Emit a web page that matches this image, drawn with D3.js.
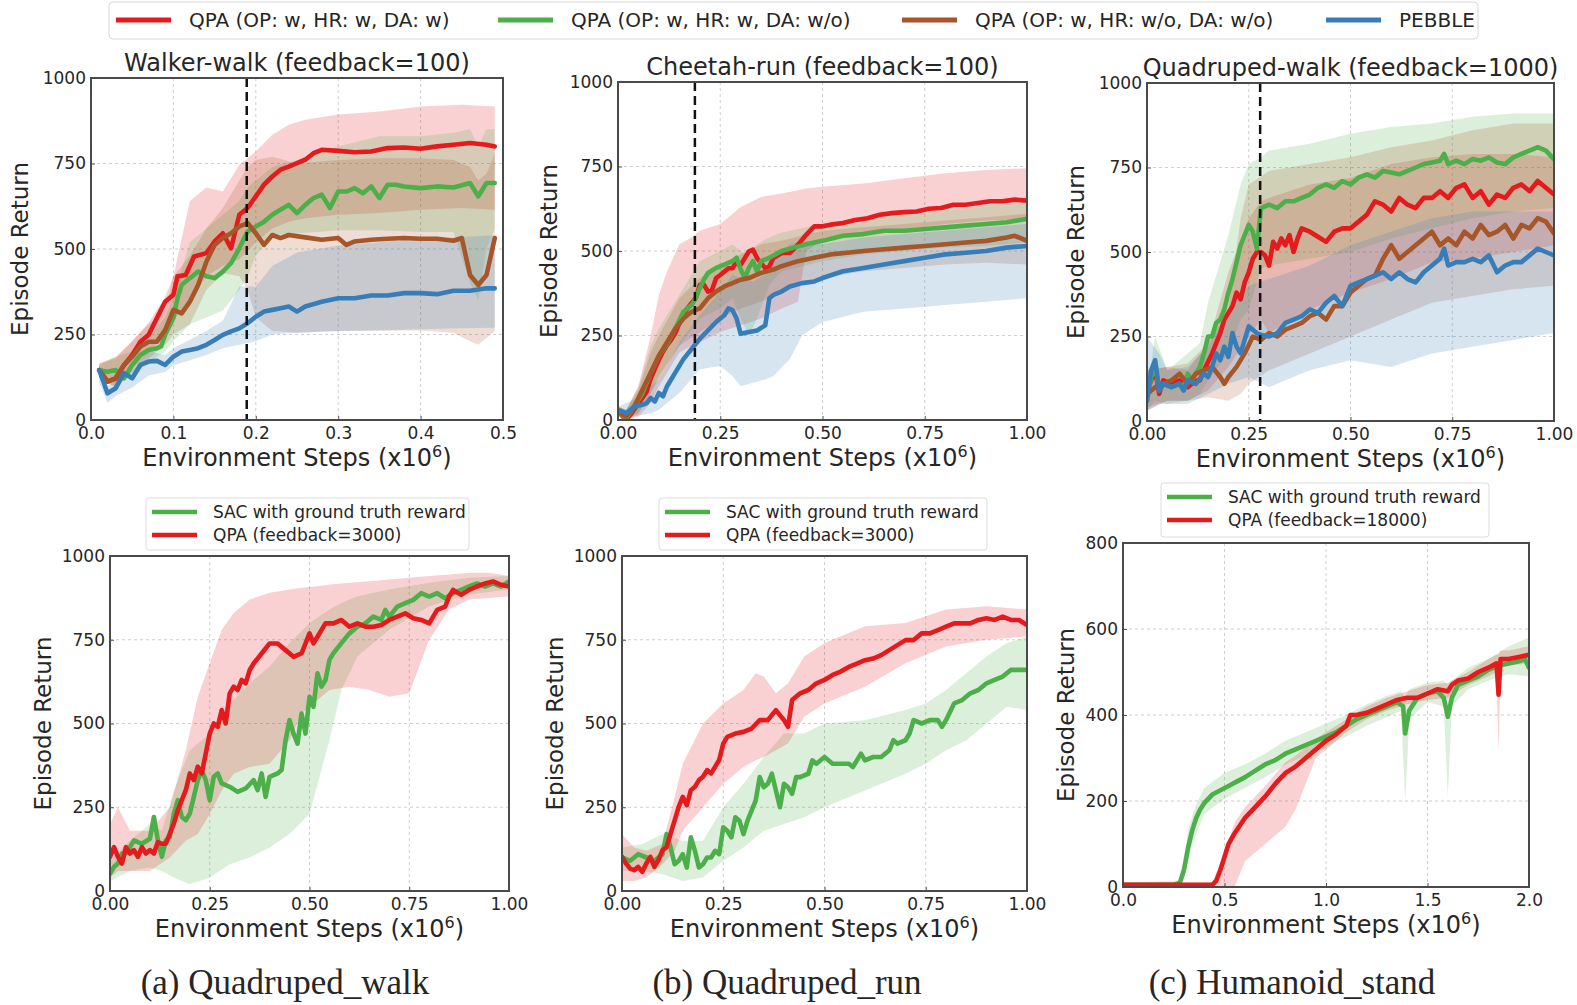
<!DOCTYPE html>
<html>
<head>
<meta charset="utf-8">
<title>QPA learning curves</title>
<script src="https://cdn.jsdelivr.net/npm/d3@7"></script>
<style>
  body { margin: 0; background: #fff; }
  text { font-family: "DejaVu Sans", sans-serif; fill: #262626; }
  .caption { font-family: "Liberation Serif", "Times New Roman", serif; }
</style>
</head>
<body>
<svg id="chart" width="1577" height="1005"></svg>
<script>
// ---- tick values ----
const walkerXTicks = [0, 0.1, 0.2, 0.3, 0.4, 0.5];
const unitXTicks = [0, 0.25, 0.5, 0.75, 1.0];
const humXTicks = [0, 0.5, 1.0, 1.5, 2.0];
const returnYTicks = [0, 250, 500, 750, 1000];
const humYTicks = [0, 200, 400, 600, 800];

// ---- legend labels ----
const topLegend = ["QPA (OP: w, HR: w, DA: w)", "QPA (OP: w, HR: w, DA: w/o)", "QPA (OP: w, HR: w/o, DA: w/o)", "PEBBLE"];
const sacLabel = "SAC with ground truth reward";

// ---- Walker-walk (feedback=100): [step, mean] and [step, low, high] ----
const walkerRed = [[0.01,146],[0.02,112],[0.03,122],[0.04,160],[0.05,190],[0.06,229],[0.07,249],[0.08,298],[0.09,346],[0.1,366],[0.105,420],[0.115,424],[0.125,478],[0.14,488],[0.15,522],[0.16,546],[0.17,502],[0.18,600],[0.19,620],[0.2,654],[0.21,688],[0.22,712],[0.23,732],[0.24,741],[0.25,751],[0.26,761],[0.27,780],[0.28,790],[0.3,787],[0.32,783],[0.34,785],[0.36,795],[0.38,797],[0.4,793],[0.42,800],[0.44,805],[0.46,810],[0.48,805],[0.49,800]];
const walkerGreen = [[0.01,146],[0.02,141],[0.03,146],[0.04,122],[0.05,161],[0.06,190],[0.07,205],[0.08,210],[0.085,215],[0.09,249],[0.1,298],[0.105,356],[0.11,395],[0.12,415],[0.13,434],[0.14,420],[0.15,415],[0.16,434],[0.17,459],[0.18,502],[0.19,551],[0.2,566],[0.21,580],[0.22,600],[0.23,615],[0.24,629],[0.25,605],[0.26,629],[0.27,649],[0.28,659],[0.29,620],[0.3,668],[0.31,668],[0.32,678],[0.33,663],[0.34,683],[0.35,649],[0.36,688],[0.37,688],[0.38,683],[0.4,678],[0.42,683],[0.44,680],[0.46,693],[0.47,654],[0.48,693],[0.49,693]];
const walkerBrown = [[0.01,146],[0.02,112],[0.03,122],[0.04,161],[0.05,185],[0.06,215],[0.07,229],[0.08,229],[0.09,263],[0.1,322],[0.11,312],[0.12,346],[0.13,395],[0.14,463],[0.15,512],[0.16,532],[0.17,546],[0.18,566],[0.19,576],[0.2,546],[0.21,512],[0.22,541],[0.23,532],[0.24,541],[0.26,534],[0.28,527],[0.3,532],[0.31,512],[0.32,522],[0.34,527],[0.36,530],[0.38,532],[0.4,530],[0.42,530],[0.44,524],[0.45,532],[0.46,424],[0.47,395],[0.48,424],[0.49,532]];
const walkerBlue = [[0.01,146],[0.02,78],[0.03,93],[0.04,137],[0.05,122],[0.06,161],[0.07,171],[0.08,173],[0.09,161],[0.1,185],[0.11,200],[0.12,205],[0.13,210],[0.14,220],[0.15,234],[0.16,249],[0.17,259],[0.18,268],[0.19,283],[0.2,302],[0.21,317],[0.22,322],[0.23,327],[0.24,332],[0.25,317],[0.26,332],[0.28,346],[0.3,356],[0.32,356],[0.34,364],[0.36,364],[0.38,371],[0.4,371],[0.42,368],[0.44,378],[0.46,378],[0.48,385],[0.49,385]];
const walkerRedBand = [[0.01,125,165],[0.03,95,185],[0.05,150,230],[0.07,195,285],[0.09,255,360],[0.1,290,420],[0.12,350,640],[0.14,420,680],[0.16,450,668],[0.18,470,746],[0.2,520,785],[0.22,560,834],[0.24,580,863],[0.26,590,878],[0.3,600,893],[0.35,605,902],[0.4,615,917],[0.45,620,922],[0.49,615,917]];
const walkerGreenBand = [[0.01,130,160],[0.03,110,185],[0.05,130,200],[0.07,170,240],[0.09,200,300],[0.1,230,360],[0.12,280,520],[0.14,300,560],[0.16,320,600],[0.18,380,640],[0.19,420,680],[0.2,480,700],[0.22,540,740],[0.25,545,760],[0.3,555,800],[0.35,555,830],[0.4,550,830],[0.44,550,840],[0.46,400,850],[0.47,350,800],[0.48,500,850],[0.49,560,850]];
const walkerBrownBand = [[0.01,125,165],[0.03,95,180],[0.05,140,230],[0.07,180,280],[0.09,220,320],[0.1,250,420],[0.12,280,480],[0.14,380,560],[0.16,430,620],[0.18,420,700],[0.19,380,740],[0.2,300,760],[0.22,260,770],[0.25,255,750],[0.3,260,760],[0.35,262,765],[0.4,262,765],[0.44,255,760],[0.46,230,740],[0.47,220,700],[0.48,240,720],[0.49,260,780]];
const walkerBlueBand = [[0.01,110,160],[0.02,50,100],[0.03,70,115],[0.05,95,145],[0.07,130,200],[0.09,140,190],[0.1,160,210],[0.12,175,235],[0.14,190,260],[0.16,210,290],[0.18,220,390],[0.2,230,390],[0.22,250,450],[0.25,255,490],[0.3,260,510],[0.35,262,520],[0.4,265,530],[0.45,268,535],[0.49,270,540]];

// ---- Cheetah-run (feedback=100) ----
const cheetahRed = [[0,25],[0.02,0],[0.03,15],[0.05,49],[0.07,84],[0.08,123],[0.1,178],[0.11,202],[0.12,222],[0.13,237],[0.14,257],[0.15,286],[0.16,311],[0.17,331],[0.18,346],[0.19,360],[0.2,400],[0.21,400],[0.22,380],[0.23,385],[0.24,420],[0.25,429],[0.26,439],[0.27,449],[0.28,449],[0.29,469],[0.3,459],[0.31,479],[0.32,499],[0.33,504],[0.34,479],[0.35,464],[0.36,449],[0.37,454],[0.38,479],[0.4,494],[0.42,494],[0.44,518],[0.46,548],[0.48,573],[0.5,573],[0.52,578],[0.55,583],[0.58,592],[0.61,597],[0.64,607],[0.67,612],[0.7,615],[0.73,617],[0.76,625],[0.79,627],[0.82,637],[0.85,637],[0.88,642],[0.91,647],[0.94,647],[0.97,652],[1.0,649]];
const cheetahGreen = [[0,25],[0.02,5],[0.04,40],[0.06,80],[0.08,140],[0.1,190],[0.12,225],[0.14,270],[0.16,320],[0.18,340],[0.19,360],[0.2,390],[0.21,415],[0.22,435],[0.24,450],[0.26,460],[0.28,470],[0.29,480],[0.3,445],[0.31,420],[0.32,450],[0.33,470],[0.34,440],[0.35,470],[0.37,480],[0.4,500],[0.43,510],[0.46,520],[0.5,530],[0.55,545],[0.6,550],[0.65,560],[0.7,560],[0.75,565],[0.8,570],[0.85,575],[0.9,580],[0.95,585],[1.0,595]];
const cheetahBrown = [[0,25],[0.02,10],[0.04,40],[0.06,90],[0.08,140],[0.1,190],[0.12,230],[0.14,270],[0.16,300],[0.18,320],[0.2,330],[0.22,360],[0.24,380],[0.26,395],[0.28,405],[0.3,415],[0.32,420],[0.35,435],[0.38,445],[0.4,455],[0.44,470],[0.48,480],[0.52,490],[0.56,495],[0.6,500],[0.65,505],[0.7,510],[0.75,515],[0.8,520],[0.85,525],[0.9,530],[0.95,540],[0.97,545],[1.0,530]];
const cheetahBlue = [[0,30],[0.02,20],[0.04,40],[0.06,45],[0.07,50],[0.08,65],[0.09,55],[0.1,80],[0.11,70],[0.12,100],[0.13,120],[0.14,140],[0.15,160],[0.16,180],[0.18,210],[0.2,240],[0.22,265],[0.24,290],[0.26,310],[0.27,330],[0.28,325],[0.29,300],[0.3,255],[0.32,260],[0.34,265],[0.36,280],[0.37,360],[0.38,370],[0.4,380],[0.42,395],[0.45,405],[0.48,410],[0.5,420],[0.55,440],[0.6,450],[0.65,460],[0.7,470],[0.75,480],[0.8,490],[0.85,495],[0.9,500],[0.95,510],[1.0,515]];
const cheetahRedBand = [[0,15,40],[0.02,0,30],[0.05,10,100],[0.08,50,250],[0.1,100,370],[0.12,140,440],[0.15,200,520],[0.18,220,540],[0.2,230,560],[0.25,260,580],[0.3,280,630],[0.35,300,660],[0.4,330,670],[0.44,350,680],[0.46,500,685],[0.5,530,690],[0.6,550,700],[0.7,565,715],[0.8,580,730],[0.9,590,740],[1.0,595,745]];
const cheetahGreenBand = [[0,15,40],[0.02,0,25],[0.05,20,100],[0.08,80,220],[0.1,120,270],[0.15,220,370],[0.2,300,470],[0.25,330,500],[0.28,360,520],[0.3,300,500],[0.32,250,490],[0.34,300,520],[0.37,400,540],[0.4,440,555],[0.5,470,580],[0.6,490,600],[0.7,500,610],[0.8,510,620],[0.9,515,635],[1.0,525,655]];
const cheetahBrownBand = [[0,15,40],[0.02,0,30],[0.05,20,90],[0.08,80,200],[0.1,130,250],[0.15,220,360],[0.2,260,420],[0.25,300,460],[0.3,330,490],[0.35,350,520],[0.4,380,530],[0.5,420,560],[0.6,440,570],[0.7,450,580],[0.8,460,590],[0.9,465,600],[1.0,460,610]];
const cheetahBlueBand = [[0,10,40],[0.04,10,60],[0.08,20,100],[0.1,30,120],[0.12,50,160],[0.15,80,230],[0.2,150,310],[0.25,160,380],[0.28,130,430],[0.3,100,420],[0.33,110,410],[0.36,120,430],[0.38,130,480],[0.42,180,520],[0.45,250,530],[0.5,290,520],[0.6,320,540],[0.7,330,550],[0.8,340,560],[0.9,350,570],[1.0,360,580]];

// ---- Quadruped-walk (feedback=1000) ----
const quadRed = [[0,90],[0.02,150],[0.03,80],[0.04,120],[0.06,110],[0.08,120],[0.1,100],[0.12,120],[0.13,120],[0.14,150],[0.16,200],[0.18,260],[0.19,300],[0.2,320],[0.21,340],[0.22,380],[0.23,360],[0.24,410],[0.25,440],[0.26,480],[0.27,500],[0.28,500],[0.29,490],[0.3,460],[0.31,530],[0.32,510],[0.33,540],[0.34,520],[0.35,550],[0.36,500],[0.37,540],[0.38,570],[0.4,560],[0.42,545],[0.44,530],[0.46,560],[0.48,570],[0.5,570],[0.52,590],[0.54,610],[0.56,650],[0.58,640],[0.6,620],[0.62,660],[0.64,640],[0.66,630],[0.68,660],[0.7,660],[0.72,680],[0.74,660],[0.76,690],[0.78,700],[0.8,660],[0.82,680],[0.84,640],[0.86,670],[0.88,660],[0.9,690],[0.92,700],[0.94,680],[0.96,710],[0.98,690],[1.0,670]];
const quadGreen = [[0,60],[0.01,130],[0.02,160],[0.03,90],[0.04,110],[0.06,100],[0.08,110],[0.09,100],[0.1,140],[0.11,120],[0.12,140],[0.13,160],[0.14,200],[0.15,250],[0.16,250],[0.17,290],[0.18,300],[0.19,330],[0.2,380],[0.21,420],[0.22,470],[0.23,520],[0.24,550],[0.25,580],[0.26,560],[0.27,510],[0.28,630],[0.3,640],[0.32,630],[0.34,650],[0.36,650],[0.38,660],[0.4,670],[0.42,690],[0.44,700],[0.46,690],[0.48,710],[0.5,700],[0.52,720],[0.54,730],[0.56,720],[0.58,740],[0.6,735],[0.62,730],[0.64,740],[0.66,750],[0.68,760],[0.7,765],[0.72,770],[0.73,790],[0.74,760],[0.76,770],[0.78,760],[0.8,775],[0.82,770],[0.84,780],[0.86,765],[0.88,760],[0.9,780],[0.92,790],[0.94,800],[0.96,810],[0.98,800],[1.0,775]];
const quadBrown = [[0,80],[0.02,100],[0.04,110],[0.06,120],[0.08,140],[0.1,110],[0.12,140],[0.14,150],[0.16,160],[0.18,130],[0.19,110],[0.2,130],[0.22,160],[0.24,200],[0.26,250],[0.28,240],[0.3,260],[0.32,250],[0.34,270],[0.36,280],[0.38,290],[0.4,310],[0.42,320],[0.44,300],[0.46,340],[0.48,340],[0.5,380],[0.52,400],[0.54,420],[0.56,430],[0.58,480],[0.6,520],[0.62,480],[0.64,500],[0.66,520],[0.68,540],[0.7,560],[0.72,520],[0.74,540],[0.76,520],[0.78,560],[0.8,540],[0.82,580],[0.84,550],[0.86,560],[0.88,580],[0.9,540],[0.92,580],[0.94,570],[0.96,600],[0.98,590],[1.0,555]];
const quadBlue = [[0,60],[0.01,150],[0.02,180],[0.03,90],[0.04,110],[0.06,100],[0.08,110],[0.09,90],[0.1,120],[0.12,110],[0.14,140],[0.15,130],[0.16,160],[0.17,200],[0.18,180],[0.19,220],[0.2,190],[0.21,260],[0.22,220],[0.23,200],[0.24,240],[0.25,280],[0.26,270],[0.27,260],[0.28,255],[0.3,250],[0.32,260],[0.34,290],[0.36,300],[0.38,310],[0.4,330],[0.42,320],[0.44,350],[0.46,370],[0.48,340],[0.5,400],[0.52,410],[0.54,420],[0.56,430],[0.58,440],[0.6,420],[0.62,440],[0.64,420],[0.66,410],[0.68,440],[0.7,460],[0.72,480],[0.73,510],[0.74,460],[0.76,470],[0.78,470],[0.8,480],[0.82,470],[0.84,490],[0.86,440],[0.88,460],[0.9,470],[0.92,470],[0.94,490],[0.96,510],[0.98,500],[1.0,490]];
const quadRedBand = [[0,40,150],[0.05,60,160],[0.1,60,150],[0.15,90,230],[0.2,160,440],[0.25,250,600],[0.28,300,650],[0.3,260,660],[0.4,330,700],[0.5,380,720],[0.6,420,760],[0.7,470,780],[0.8,480,790],[0.9,500,790],[1.0,520,780]];
const quadGreenBand = [[0,30,90],[0.02,60,250],[0.05,50,150],[0.1,60,200],[0.13,80,230],[0.15,120,350],[0.2,200,550],[0.23,300,700],[0.25,330,760],[0.28,450,780],[0.3,460,800],[0.4,480,820],[0.5,500,850],[0.6,540,870],[0.7,570,880],[0.8,600,900],[0.9,620,910],[1.0,630,910]];
const quadBrownBand = [[0,30,150],[0.05,60,160],[0.1,60,170],[0.15,70,230],[0.2,60,330],[0.23,80,600],[0.25,110,700],[0.3,150,740],[0.4,200,760],[0.5,250,780],[0.6,300,810],[0.7,350,830],[0.8,370,860],[0.9,390,880],[1.0,400,880]];
const quadBlueBand = [[0,30,250],[0.03,50,200],[0.05,50,150],[0.1,50,160],[0.15,80,220],[0.2,110,330],[0.25,130,400],[0.3,100,420],[0.4,150,460],[0.5,180,520],[0.6,160,560],[0.7,200,600],[0.8,220,620],[0.9,240,620],[1.0,260,620]];

// ---- (a) Quadruped_walk, SAC vs QPA (feedback=3000) ----
const qwSac = [[0,52],[0.01,72],[0.02,82],[0.03,112],[0.04,112],[0.05,131],[0.06,151],[0.08,141],[0.1,156],[0.11,221],[0.12,151],[0.13,102],[0.14,151],[0.15,161],[0.16,231],[0.17,271],[0.18,221],[0.19,211],[0.2,231],[0.21,281],[0.22,331],[0.23,361],[0.24,331],[0.25,271],[0.26,341],[0.27,351],[0.28,321],[0.3,311],[0.32,296],[0.34,306],[0.36,331],[0.37,301],[0.38,351],[0.39,281],[0.4,341],[0.42,351],[0.43,361],[0.44,450],[0.45,510],[0.46,470],[0.47,440],[0.48,530],[0.49,470],[0.5,580],[0.51,550],[0.52,650],[0.53,610],[0.54,630],[0.55,690],[0.56,710],[0.58,740],[0.6,769],[0.62,789],[0.64,799],[0.66,819],[0.68,809],[0.69,839],[0.7,819],[0.72,849],[0.74,859],[0.76,869],[0.78,889],[0.8,879],[0.82,889],[0.84,874],[0.86,889],[0.88,899],[0.9,909],[0.92,918],[0.94,909],[0.96,918],[0.98,909],[1.0,924]];
const qwQpa = [[0,102],[0.01,131],[0.02,102],[0.03,82],[0.04,131],[0.05,112],[0.06,122],[0.07,102],[0.08,131],[0.09,112],[0.1,122],[0.11,112],[0.12,146],[0.13,141],[0.14,141],[0.15,171],[0.16,201],[0.17,241],[0.18,271],[0.19,301],[0.2,351],[0.21,331],[0.22,371],[0.23,351],[0.24,410],[0.25,470],[0.26,500],[0.27,490],[0.28,540],[0.29,500],[0.3,590],[0.31,610],[0.32,600],[0.33,630],[0.34,620],[0.35,659],[0.36,679],[0.38,709],[0.4,739],[0.42,739],[0.44,719],[0.46,699],[0.48,709],[0.5,769],[0.51,739],[0.52,759],[0.54,799],[0.56,799],[0.58,809],[0.6,789],[0.62,799],[0.64,789],[0.66,789],[0.68,794],[0.7,809],[0.72,819],[0.74,829],[0.76,814],[0.78,809],[0.8,799],[0.81,819],[0.82,839],[0.84,849],[0.85,879],[0.86,899],[0.88,884],[0.9,899],[0.92,909],[0.94,918],[0.96,924],[0.98,914],[1.0,909]];
const qwQpaBand = [[0,40,200],[0.02,60,250],[0.05,60,180],[0.1,60,180],[0.15,100,250],[0.19,150,420],[0.22,170,580],[0.25,230,680],[0.28,300,780],[0.31,350,830],[0.35,370,870],[0.4,380,890],[0.45,450,900],[0.48,530,905],[0.52,570,910],[0.55,600,915],[0.6,610,920],[0.65,600,925],[0.7,580,930],[0.75,590,935],[0.8,750,940],[0.85,840,945],[0.9,870,950],[0.95,875,950],[1.0,880,940]];
const qwSacBand = [[0,30,90],[0.05,60,150],[0.1,70,200],[0.13,60,180],[0.16,40,300],[0.2,20,420],[0.25,40,470],[0.3,80,560],[0.35,100,620],[0.4,130,670],[0.45,170,740],[0.5,230,800],[0.55,450,840],[0.58,600,860],[0.62,700,880],[0.7,780,900],[0.8,850,920],[0.9,885,935],[1.0,900,940]];

// ---- (b) Quadruped_run ----
const qrSac = [[0,100],[0.02,90],[0.04,110],[0.06,100],[0.08,90],[0.1,110],[0.11,170],[0.12,130],[0.13,80],[0.14,90],[0.15,110],[0.16,70],[0.17,160],[0.18,120],[0.19,70],[0.2,80],[0.21,100],[0.22,100],[0.23,120],[0.24,110],[0.25,190],[0.26,180],[0.27,160],[0.28,220],[0.29,210],[0.3,170],[0.31,210],[0.32,240],[0.33,270],[0.34,340],[0.35,310],[0.36,320],[0.37,350],[0.38,300],[0.39,250],[0.4,320],[0.41,310],[0.42,290],[0.43,340],[0.44,340],[0.46,350],[0.47,390],[0.48,380],[0.5,400],[0.52,380],[0.54,380],[0.56,380],[0.57,370],[0.58,390],[0.59,410],[0.6,390],[0.62,400],[0.64,400],[0.66,420],[0.67,450],[0.68,440],[0.7,450],[0.71,470],[0.72,510],[0.74,500],[0.76,510],[0.78,510],[0.79,490],[0.8,510],[0.82,560],[0.84,570],[0.86,590],[0.88,600],[0.9,620],[0.92,630],[0.94,640],[0.96,660],[0.98,660],[1.0,660]];
const qrQpa = [[0,102],[0.01,82],[0.02,67],[0.03,62],[0.04,72],[0.05,57],[0.06,82],[0.07,102],[0.08,72],[0.09,92],[0.1,122],[0.11,131],[0.12,171],[0.13,211],[0.14,251],[0.15,281],[0.16,256],[0.17,301],[0.18,311],[0.19,331],[0.2,341],[0.21,361],[0.22,351],[0.23,371],[0.24,391],[0.25,440],[0.26,460],[0.28,470],[0.3,475],[0.32,485],[0.34,510],[0.36,510],[0.38,540],[0.4,510],[0.41,490],[0.42,570],[0.44,590],[0.46,600],[0.48,620],[0.5,630],[0.52,645],[0.54,655],[0.56,669],[0.58,679],[0.6,689],[0.62,694],[0.64,704],[0.66,719],[0.68,734],[0.7,749],[0.72,749],[0.74,769],[0.76,769],[0.78,779],[0.8,789],[0.82,799],[0.84,799],[0.86,799],[0.88,809],[0.9,814],[0.92,809],[0.94,819],[0.96,809],[0.98,809],[1.0,794]];
const qrQpaBand = [[0,30,170],[0.03,30,130],[0.06,40,120],[0.1,80,140],[0.13,120,280],[0.15,180,380],[0.2,250,500],[0.25,320,560],[0.3,370,600],[0.33,390,650],[0.35,400,640],[0.38,420,590],[0.41,440,620],[0.45,520,700],[0.5,560,740],[0.6,610,790],[0.7,680,800],[0.8,730,840],[0.9,750,850],[1.0,760,840]];
const qrSacBand = [[0,60,130],[0.05,60,140],[0.1,50,170],[0.15,30,150],[0.2,40,150],[0.25,90,250],[0.3,130,320],[0.35,180,400],[0.4,200,470],[0.45,220,470],[0.5,250,500],[0.6,300,510],[0.7,350,540],[0.75,380,560],[0.8,420,600],[0.85,450,650],[0.9,500,700],[0.95,550,740],[1.0,540,760]];

// ---- (c) Humanoid_stand ----
const humSac = [[0,5],[0.25,5],[0.28,10],[0.3,39],[0.32,90],[0.34,130],[0.36,160],[0.38,180],[0.4,195],[0.44,215],[0.48,225],[0.52,235],[0.56,245],[0.6,255],[0.65,270],[0.7,285],[0.75,295],[0.8,310],[0.85,320],[0.9,330],[0.95,340],[1.0,350],[1.05,360],[1.1,375],[1.15,390],[1.2,400],[1.25,410],[1.3,420],[1.35,430],[1.38,420],[1.39,357],[1.41,410],[1.45,440],[1.5,450],[1.55,455],[1.58,440],[1.6,396],[1.62,440],[1.65,470],[1.7,480],[1.75,490],[1.8,505],[1.85,515],[1.9,520],[1.95,525],[1.98,530],[2.0,510]];
const humQpa = [[0,5],[0.3,5],[0.44,5],[0.46,15],[0.48,40],[0.5,70],[0.52,100],[0.55,125],[0.6,160],[0.65,185],[0.7,210],[0.75,240],[0.78,255],[0.8,265],[0.85,280],[0.9,300],[0.95,320],[1.0,340],[1.05,355],[1.1,375],[1.12,400],[1.15,400],[1.2,405],[1.25,415],[1.3,425],[1.35,435],[1.4,440],[1.45,440],[1.5,450],[1.55,460],[1.6,455],[1.62,470],[1.65,480],[1.7,485],[1.75,500],[1.8,510],[1.84,520],[1.85,447],[1.86,530],[1.9,530],[1.95,535],[2.0,540]];
const humSacBand = [[0,0,10],[0.28,0,15],[0.3,20,60],[0.32,60,130],[0.35,110,180],[0.4,170,230],[0.5,205,265],[0.6,230,285],[0.7,255,310],[0.8,285,340],[0.9,305,360],[1.0,325,380],[1.1,350,400],[1.2,375,425],[1.3,395,445],[1.37,410,455],[1.39,200,440],[1.41,390,460],[1.5,430,475],[1.58,420,480],[1.6,210,470],[1.62,420,480],[1.7,460,510],[1.8,480,530],[1.9,495,560],[2.0,490,580]];
const humQpaBand = [[0,0,10],[0.44,0,10],[0.5,0,80],[0.55,0,150],[0.6,60,185],[0.7,100,235],[0.8,140,290],[0.85,180,305],[0.9,240,325],[0.95,300,345],[1.0,320,360],[1.1,360,390],[1.2,390,420],[1.3,410,440],[1.4,425,455],[1.5,435,470],[1.6,440,475],[1.7,470,500],[1.8,490,530],[1.84,500,540],[1.85,310,540],[1.86,510,550],[1.9,515,550],[2.0,520,560]];

const RED = "#e41a1c", GREEN = "#4daf4a", BROWN = "#a65628", BLUE = "#377eb8";

// layout for the six axes
const panels = [
  { left: 91, right: 503, top: 78, bottom: 420, xDomain: [0, 0.5], yDomain: [0, 1000],
    xTicks: walkerXTicks, xFmt: ".1f", yTicks: returnYTicks, title: "Walker-walk (feedback=100)", vline: 0.189, ylabOff: 63,
    series: [[walkerRed, walkerRedBand, RED], [walkerGreen, walkerGreenBand, GREEN], [walkerBrown, walkerBrownBand, BROWN], [walkerBlue, walkerBlueBand, BLUE]] },
  { left: 618, right: 1027, top: 82, bottom: 420, xDomain: [0, 1], yDomain: [0, 1000],
    xTicks: unitXTicks, xFmt: ".2f", yTicks: returnYTicks, title: "Cheetah-run (feedback=100)", vline: 0.188, ylabOff: 61,
    series: [[cheetahRed, cheetahRedBand, RED], [cheetahGreen, cheetahGreenBand, GREEN], [cheetahBrown, cheetahBrownBand, BROWN], [cheetahBlue, cheetahBlueBand, BLUE]] },
  { left: 1147, right: 1554, top: 83, bottom: 421, xDomain: [0, 1], yDomain: [0, 1000],
    xTicks: unitXTicks, xFmt: ".2f", yTicks: returnYTicks, title: "Quadruped-walk (feedback=1000)", vline: 0.278, ylabOff: 63,
    series: [[quadRed, quadRedBand, RED], [quadGreen, quadGreenBand, GREEN], [quadBrown, quadBrownBand, BROWN], [quadBlue, quadBlueBand, BLUE]] },
  { left: 110, right: 509, top: 556, bottom: 891, xDomain: [0, 1], yDomain: [0, 1000],
    xTicks: unitXTicks, xFmt: ".2f", yTicks: returnYTicks, ylabOff: 59, caption: "(a) Quadruped_walk", capX: 285, qpa: "QPA (feedback=3000)",
    legend: { x: 146, y: 498, w: 323, h: 52 },
    series: [[qwSac, qwSacBand, GREEN], [qwQpa, qwQpaBand, RED]] },
  { left: 622, right: 1027, top: 556, bottom: 891, xDomain: [0, 1], yDomain: [0, 1000],
    xTicks: unitXTicks, xFmt: ".2f", yTicks: returnYTicks, ylabOff: 59, caption: "(b) Quadruped_run", capX: 787, qpa: "QPA (feedback=3000)",
    legend: { x: 659, y: 498, w: 328, h: 52 },
    series: [[qrSac, qrSacBand, GREEN], [qrQpa, qrQpaBand, RED]] },
  { left: 1123, right: 1529, top: 543, bottom: 887, xDomain: [0, 2], yDomain: [0, 800],
    xTicks: humXTicks, xFmt: ".1f", yTicks: humYTicks, ylabOff: 49, caption: "(c) Humanoid_stand", capX: 1292, qpa: "QPA (feedback=18000)",
    legend: { x: 1161, y: 483, w: 328, h: 54 },
    series: [[humSac, humSacBand, GREEN], [humQpa, humQpaBand, RED]] }
];

const svg = d3.select("#chart");
svg.append("rect").attr("width", 1577).attr("height", 1005).attr("fill", "#fff");

panels.forEach(function(p, i) { drawPanel(p, i); });
drawTopLegend();

function drawPanel(p, i) {
  var x = d3.scaleLinear().domain(p.xDomain).range([p.left, p.right]);
  var y = d3.scaleLinear().domain(p.yDomain).range([p.bottom, p.top]);
  var g = svg.append("g");

  svg.append("clipPath").attr("id", "clip" + i).append("rect")
    .attr("x", p.left).attr("y", p.top).attr("width", p.right - p.left).attr("height", p.bottom - p.top);

  // dashed grid
  g.append("g").selectAll("line").data(p.xTicks.slice(1, -1)).enter().append("line")
    .attr("x1", d => x(d)).attr("x2", d => x(d)).attr("y1", p.top).attr("y2", p.bottom)
    .attr("stroke", "#cfcfcf").attr("stroke-width", 1).attr("stroke-dasharray", "3,3");
  g.append("g").selectAll("line").data(p.yTicks.slice(1, -1)).enter().append("line")
    .attr("y1", d => y(d)).attr("y2", d => y(d)).attr("x1", p.left).attr("x2", p.right)
    .attr("stroke", "#cfcfcf").attr("stroke-width", 1).attr("stroke-dasharray", "3,3");

  var plot = g.append("g").attr("clip-path", "url(#clip" + i + ")");
  var area = d3.area().x(d => x(d[0])).y0(d => y(d[1])).y1(d => y(d[2]));
  var line = d3.line().x(d => x(d[0])).y(d => y(d[1]));

  p.series.forEach(function(s) {
    plot.append("path").datum(s[1]).attr("d", area)
      .attr("fill", s[2]).attr("fill-opacity", 0.2).attr("stroke", "none");
  });
  p.series.forEach(function(s) {
    plot.append("path").datum(s[0]).attr("d", line)
      .attr("fill", "none").attr("stroke", s[2]).attr("stroke-width", 4.6)
      .attr("stroke-linejoin", "round").attr("stroke-linecap", "round");
  });

  if (p.vline != null) {
    g.append("line").attr("x1", x(p.vline)).attr("x2", x(p.vline)).attr("y1", p.top).attr("y2", p.bottom)
      .attr("stroke", "#111").attr("stroke-width", 2.5).attr("stroke-dasharray", "9,5");
  }

  // axes, ticks pointing inward
  var xAxis = g.append("g").attr("transform", "translate(0," + p.bottom + ")")
    .call(d3.axisBottom(x).tickValues(p.xTicks).tickFormat(d3.format(p.xFmt)).tickSizeInner(-4).tickSizeOuter(0).tickPadding(7));
  var yAxis = g.append("g").attr("transform", "translate(" + p.left + ",0)")
    .call(d3.axisLeft(y).tickValues(p.yTicks).tickFormat(d3.format("d")).tickSizeInner(-4).tickSizeOuter(0).tickPadding(5));
  [xAxis, yAxis].forEach(function(a) {
    a.select(".domain").remove();
    a.selectAll(".tick line").attr("stroke", "#555");
    a.selectAll("text").attr("font-size", 17).attr("fill", "#333").attr("font-family", "DejaVu Sans");
  });

  // frame
  g.append("rect").attr("x", p.left).attr("y", p.top).attr("width", p.right - p.left).attr("height", p.bottom - p.top)
    .attr("fill", "none").attr("stroke", "#4a4a4a").attr("stroke-width", 2);

  var cx = (p.left + p.right) / 2;
  if (p.title) {
    g.append("text").attr("x", cx).attr("y", p.top - 7).attr("text-anchor", "middle")
      .attr("font-size", 24).text(p.title);
  }

  // axis labels
  var xl = g.append("text").attr("x", cx).attr("y", p.bottom + 46).attr("text-anchor", "middle").attr("font-size", 24);
  xl.append("tspan").text("Environment Steps (x10");
  xl.append("tspan").attr("dy", -9).attr("font-size", 16).text("6");
  xl.append("tspan").attr("dy", 9).text(")");

  g.append("text").attr("transform", "translate(" + (p.left - p.ylabOff) + "," + ((p.top + p.bottom) / 2) + ") rotate(-90)")
    .attr("text-anchor", "middle").attr("font-size", 23).text("Episode Return");

  if (p.legend) {
    var L = p.legend;
    var lg = g.append("g");
    lg.append("rect").attr("x", L.x).attr("y", L.y).attr("width", L.w).attr("height", L.h).attr("rx", 3)
      .attr("fill", "#fff").attr("fill-opacity", 0.85).attr("stroke", "#dcdcdc");
    var items = [[sacLabel, GREEN], [p.qpa, RED]];
    items.forEach(function(it, k) {
      var yy = L.y + 14 + k * 23;
      lg.append("line").attr("x1", L.x + 6).attr("x2", L.x + 51).attr("y1", yy).attr("y2", yy)
        .attr("stroke", it[1]).attr("stroke-width", 4.6);
      lg.append("text").attr("x", L.x + 67).attr("y", yy + 6).attr("font-size", 17).text(it[0]);
    });
  }

  if (p.caption) {
    g.append("text").attr("class", "caption").attr("x", p.capX).attr("y", 994).attr("text-anchor", "middle")
      .attr("font-size", 35).attr("fill", "#111").text(p.caption);
  }
}

function drawTopLegend() {
  var lg = svg.append("g");
  lg.append("rect").attr("x", 109).attr("y", 2).attr("width", 1369).attr("height", 37).attr("rx", 4)
    .attr("fill", "#fff").attr("stroke", "#d8d8d8");
  var starts = [116, 498, 902, 1326];
  var cols = [RED, GREEN, BROWN, BLUE];
  topLegend.forEach(function(label, k) {
    lg.append("line").attr("x1", starts[k]).attr("x2", starts[k] + 55).attr("y1", 20).attr("y2", 20)
      .attr("stroke", cols[k]).attr("stroke-width", 5);
    lg.append("text").attr("x", starts[k] + 73).attr("y", 27).attr("font-size", 20).text(label);
  });
}
</script>
</body>
</html>
